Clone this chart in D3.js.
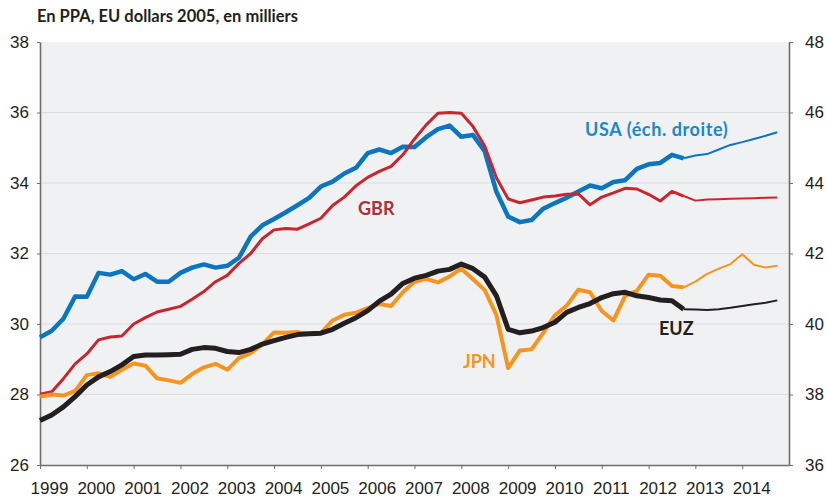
<!DOCTYPE html>
<html>
<head>
<meta charset="utf-8">
<script src="https://cdn.jsdelivr.net/npm/d3@7"></script>
<style>
  body { margin: 0; background: #fff; }
  svg { display: block; font-family: Lato, "Open Sans", sans-serif; }
</style>
</head>
<body>
<svg id="chart"></svg>
<script>
// Trimestres 1999T1 .. 2014T4
const quarters = d3.range(64).map(i => 1999 + i / 4);
const yearTicks = d3.range(1999, 2015);
const leftTicks = [26, 28, 30, 32, 34, 36, 38];
const rightTicks = [36, 38, 40, 42, 44, 46, 48];
// premier trimestre projeté (2012T4)
const forecastFrom = 55;

const usa = [39.62, 39.81, 40.15, 40.78, 40.77, 41.45, 41.40, 41.50, 41.27, 41.42, 41.20, 41.20, 41.45, 41.60, 41.69, 41.60,
  41.65, 41.88, 42.48, 42.80, 42.98, 43.17, 43.37, 43.58, 43.90, 44.04, 44.27, 44.43, 44.85, 44.95, 44.85, 45.03,
  45.02, 45.30, 45.53, 45.63, 45.31, 45.36, 44.90, 43.75, 43.05, 42.89, 42.95, 43.27, 43.43, 43.58, 43.76, 43.93,
  43.85, 44.03, 44.08, 44.40, 44.53, 44.57, 44.80, 44.70, 44.78, 44.82, 44.95, 45.08, 45.16, 45.25, 45.34, 45.44];

const gbr = [28.01, 28.08, 28.45, 28.87, 29.15, 29.55, 29.63, 29.66, 30.00, 30.18, 30.34, 30.42, 30.50, 30.70, 30.92, 31.20,
  31.38, 31.72, 32.00, 32.42, 32.67, 32.71, 32.69, 32.84, 33.00, 33.36, 33.60, 33.92, 34.16, 34.33, 34.47, 34.80,
  35.25, 35.65, 35.98, 36.00, 35.98, 35.60, 35.05, 34.15, 33.55, 33.44, 33.52, 33.60, 33.63, 33.68, 33.69, 33.38,
  33.60, 33.72, 33.85, 33.83, 33.68, 33.49, 33.76, 33.63, 33.50, 33.53, 33.54, 33.55, 33.56, 33.57, 33.58, 33.59];

const jpn = [27.94, 28.00, 27.97, 28.10, 28.55, 28.60, 28.50, 28.70, 28.88, 28.82, 28.46, 28.40, 28.33, 28.58, 28.77, 28.87,
  28.70, 29.03, 29.17, 29.42, 29.76, 29.75, 29.77, 29.72, 29.74, 30.10, 30.26, 30.32, 30.45, 30.57, 30.51, 30.90,
  31.20, 31.28, 31.18, 31.35, 31.57, 31.27, 30.96, 30.25, 28.75, 29.25, 29.28, 29.75, 30.25, 30.52, 30.97, 30.90,
  30.37, 30.10, 30.80, 30.94, 31.40, 31.37, 31.08, 31.04, 31.20, 31.42, 31.57, 31.70, 31.98, 31.68, 31.60, 31.65];

const euz = [27.26, 27.42, 27.65, 27.94, 28.27, 28.50, 28.65, 28.84, 29.08, 29.12, 29.12, 29.13, 29.14, 29.28, 29.33, 29.31,
  29.22, 29.19, 29.28, 29.43, 29.53, 29.62, 29.70, 29.72, 29.74, 29.85, 30.02, 30.18, 30.38, 30.65, 30.85, 31.15,
  31.30, 31.38, 31.50, 31.55, 31.70, 31.57, 31.33, 30.80, 29.85, 29.75, 29.80, 29.90, 30.05, 30.33, 30.47, 30.58,
  30.75, 30.86, 30.90, 30.80, 30.75, 30.68, 30.66, 30.42, 30.41, 30.40, 30.42, 30.46, 30.51, 30.56, 30.60, 30.67];

const width = 827, height = 497;
const plot = { left: 40, right: 789, top: 42, bottom: 465 };
const axisColor = "#6d6e71";

const svg = d3.select("#chart").attr("width", width).attr("height", height);

const x = d3.scaleLinear().domain([1999, 2015]).range([plot.left, plot.right]);
const yL = d3.scaleLinear().domain([26, 38]).range([plot.bottom, plot.top]);
const yR = d3.scaleLinear().domain([36, 48]).range([plot.bottom, plot.top]);

// fond + grille
svg.append("rect")
  .attr("x", plot.left).attr("y", plot.top)
  .attr("width", plot.right - plot.left).attr("height", plot.bottom - plot.top)
  .attr("fill", "#f0f1f3");

svg.append("g").selectAll("line")
  .data(leftTicks.filter(d => d > 26 && d < 38))
  .join("line")
  .attr("x1", plot.left).attr("x2", plot.right)
  .attr("y1", d => yL(d)).attr("y2", d => yL(d))
  .attr("stroke", "#dcdde0").attr("stroke-width", 1);

// titre
svg.append("text")
  .attr("x", 37).attr("y", 22)
  .attr("font-size", "16.5px").attr("font-weight", "bold").attr("fill", "#231f20")
  .text("En PPA, EU dollars 2005, en milliers");

function styleAxis(g) {
  g.select(".domain").attr("stroke", axisColor).attr("stroke-width", 1.6);
  g.selectAll(".tick line").attr("stroke", axisColor);
  g.selectAll(".tick text").attr("fill", "#231f20").attr("font-size", "17px");
}

// axes
svg.append("g")
  .attr("transform", `translate(${plot.left},0)`)
  .call(d3.axisLeft(yL).tickValues(leftTicks).tickSize(3).tickSizeOuter(0).tickPadding(8))
  .call(styleAxis);

svg.append("g")
  .attr("transform", `translate(${plot.right},0)`)
  .call(d3.axisRight(yR).tickValues(rightTicks).tickSize(4).tickSizeOuter(0).tickPadding(12))
  .call(styleAxis);

svg.append("g")
  .attr("transform", `translate(0,${plot.bottom})`)
  .call(d3.axisBottom(x).tickValues(yearTicks).tickFormat(d3.format("d")).tickSize(4).tickSizeOuter(0))
  .call(styleAxis)
  .call(g => g.selectAll(".tick text").attr("dx", 9).attr("y", 17));

// séries : partie observée épaisse, projection fine
const seriesList = [
  { name: "USA", values: usa, y: yR, color: "#0b76bd", w: 4.5 },
  { name: "GBR", values: gbr, y: yL, color: "#c9252f", w: 3 },
  { name: "JPN", values: jpn, y: yL, color: "#f7941d", w: 4 },
  { name: "EUZ", values: euz, y: yL, color: "#231f20", w: 5 }
];

seriesList.forEach(s => {
  const line = d3.line().x(d => x(d[0])).y(d => s.y(d[1]));
  const pts = quarters.map((q, i) => [q, s.values[i]]);
  svg.append("path")
    .datum(pts.slice(forecastFrom))
    .attr("d", line)
    .attr("fill", "none").attr("stroke", s.color)
    .attr("stroke-width", 2).attr("stroke-linejoin", "round");
  svg.append("path")
    .datum(pts.slice(0, forecastFrom + 1))
    .attr("d", line)
    .attr("fill", "none").attr("stroke", s.color)
    .attr("stroke-width", s.w).attr("stroke-linejoin", "round");
});

// étiquettes
const labels = [
  { text: "USA (éch. droite)", x: 585, y: 136, color: "#1a87c9", ls: 0.6 },
  { text: "GBR", x: 358, y: 215, color: "#a8323a", ls: 0 },
  { text: "JPN", x: 463, y: 368, color: "#f7941d", ls: 0 },
  { text: "EUZ", x: 659, y: 335, color: "#231f20", ls: 0 }
];

svg.append("g").selectAll("text")
  .data(labels)
  .join("text")
  .attr("x", d => d.x).attr("y", d => d.y)
  .attr("fill", d => d.color)
  .attr("font-size", "18px").attr("font-weight", "bold")
  .attr("letter-spacing", d => d.ls)
  .text(d => d.text);
</script>
</body>
</html>
